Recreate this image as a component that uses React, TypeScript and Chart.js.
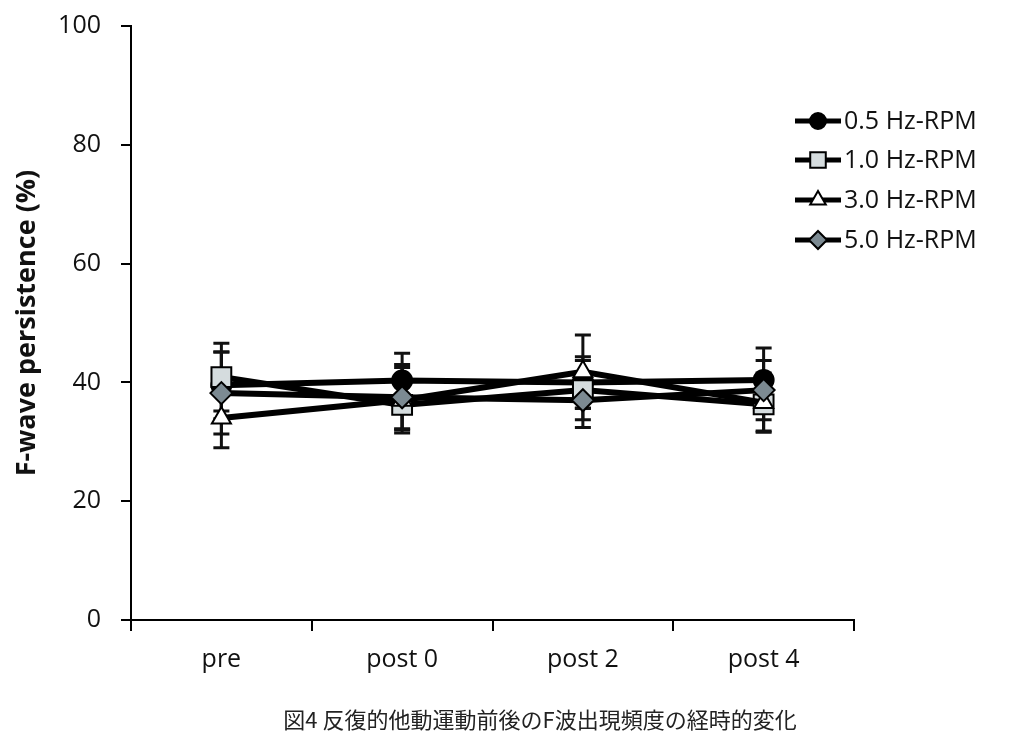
import React, { useEffect, useRef } from "react";
import { Chart, registerables } from "chart.js";

Chart.register(...registerables);

const categories = ["pre", "post 0", "post 2", "post 4"];
const yTicks = [0, 20, 40, 60, 80, 100];

const seriesNames = ["0.5 Hz-RPM", "1.0 Hz-RPM", "3.0 Hz-RPM", "5.0 Hz-RPM"];
const hz05 = [39.5, 40.3, 40.0, 40.4];
const hz10 = [40.9, 36.2, 38.7, 36.3];
const hz30 = [34.0, 37.0, 41.8, 36.6];
const hz50 = [38.2, 37.5, 37.0, 38.7];
const hz05Err = [5.6, 4.6, 4.3, 5.4];
const hz10Err = [5.7, 4.0, 5.0, 4.5];
const hz30Err = [5.0, 5.5, 6.2, 5.0];
const hz50Err = [6.9, 5.5, 4.6, 5.0];

const caption = "図4 反復的他動運動前後のF波出現頻度の経時的変化";
const yTitle = "F-wave persistence (%)";

const styles = [
  { pointStyle: "circle", fill: "#000000", radius: 10, legendR: 8 },
  { pointStyle: "rect", fill: "#d5dcde", radius: 14, legendR: 11 },
  { pointStyle: "triangle", fill: "#ffffff", radius: 11, legendR: 9 },
  { pointStyle: "rectRot", fill: "#7c8a92", radius: 11, legendR: 9 },
];
const values = [hz05, hz10, hz30, hz50];
const errors = [hz05Err, hz10Err, hz30Err, hz50Err];
const orders = [3, 2, 1, 0];

const errorBarPlugin = {
  id: "errorBars",
  beforeDatasetsDraw(chart: any) {
    const ctx = chart.ctx;
    const yScale = chart.scales.y;
    ctx.save();
    ctx.strokeStyle = "#111";
    ctx.lineWidth = 3;
    chart.data.datasets.forEach((ds: any, di: number) => {
      const meta = chart.getDatasetMeta(di);
      const errs = errors[di];
      meta.data.forEach((pt: any, i: number) => {
        const v = ds.data[i];
        const e = errs[i];
        const x = pt.x;
        const yt = yScale.getPixelForValue(v + e);
        const yb = yScale.getPixelForValue(v - e);
        ctx.beginPath();
        ctx.moveTo(x, yt);
        ctx.lineTo(x, yb);
        ctx.moveTo(x - 8, yt);
        ctx.lineTo(x + 8, yt);
        ctx.moveTo(x - 8, yb);
        ctx.lineTo(x + 8, yb);
        ctx.stroke();
      });
    });
    ctx.restore();
  },
};

function drawMarker(ctx: CanvasRenderingContext2D, style: string, x: number, y: number, r: number, fill: string) {
  ctx.beginPath();
  if (style === "circle") {
    ctx.arc(x, y, r, 0, Math.PI * 2);
  } else if (style === "rect") {
    const s = r * Math.SQRT1_2;
    ctx.rect(x - s, y - s, 2 * s, 2 * s);
  } else if (style === "triangle") {
    ctx.moveTo(x, y - r);
    ctx.lineTo(x + r * 0.866, y + r * 0.5);
    ctx.lineTo(x - r * 0.866, y + r * 0.5);
    ctx.closePath();
  } else {
    ctx.moveTo(x, y - r);
    ctx.lineTo(x + r, y);
    ctx.lineTo(x, y + r);
    ctx.lineTo(x - r, y);
    ctx.closePath();
  }
  ctx.fillStyle = fill;
  ctx.fill();
  ctx.lineWidth = 2;
  ctx.strokeStyle = "#000";
  ctx.stroke();
}

const legendPlugin = {
  id: "customLegend",
  afterDraw(chart: any) {
    const ctx = chart.ctx;
    ctx.save();
    const x0 = 795;
    const rows = [121, 160, 200, 240];
    seriesNames.forEach((name, i) => {
      const y = rows[i];
      ctx.beginPath();
      ctx.moveTo(x0, y);
      ctx.lineTo(x0 + 46, y);
      ctx.lineWidth = 5;
      ctx.strokeStyle = "#000";
      ctx.stroke();
      drawMarker(ctx, styles[i].pointStyle, x0 + 23, y, styles[i].legendR, styles[i].fill);
      ctx.fillStyle = "#111";
      ctx.font = "25px 'Open Sans'";
      ctx.textBaseline = "middle";
      ctx.textAlign = "left";
      ctx.fillText(name, x0 + 49, y + 1);
    });
    ctx.restore();
  },
};

export default function App() {
  const ref = useRef<HTMLCanvasElement>(null);
  useEffect(() => {
    if (!ref.current) return;
    const chart = new Chart(ref.current, {
      type: "line",
      data: {
        labels: categories,
        datasets: seriesNames.map((name, i) => ({
          label: name,
          data: values[i],
          borderColor: "#000",
          borderWidth: 6,
          pointStyle: styles[i].pointStyle as any,
          pointRadius: styles[i].radius,
          pointBackgroundColor: styles[i].fill,
          pointBorderColor: "#000",
          pointBorderWidth: 2,
          tension: 0,
          order: orders[i],
          clip: false as any,
        })),
      },
      options: {
        animation: false,
        responsive: true,
        maintainAspectRatio: false,
        layout: { padding: { top: 26, right: 170, bottom: 0, left: 0 } },
        plugins: { legend: { display: false }, tooltip: { enabled: false } },
        scales: {
          x: {
            offset: true,
            grid: { drawOnChartArea: false, offset: true, tickLength: 11, color: "#000", lineWidth: 2 },
            border: { color: "#000", width: 2 },
            ticks: { color: "#111", font: { family: "'Open Sans'", size: 25 }, padding: 14 },
            afterFit: (s: any) => { s.height = 127; s.paddingLeft = 0; s.paddingRight = 0; },
          },
          y: {
            min: 0,
            max: 100,
            afterBuildTicks: (s: any) => { s.ticks = yTicks.map((v) => ({ value: v })); },
            grid: { drawOnChartArea: false, tickLength: 10, color: "#000", lineWidth: 2 },
            border: { color: "#000", width: 2 },
            ticks: { color: "#111", font: { family: "'Open Sans'", size: 25 }, padding: 20 },
            title: {
              display: true,
              text: yTitle,
              color: "#111",
              font: { family: "'Open Sans'", size: 27, weight: "bold" },
              padding: { top: 11, bottom: 0 },
            },
            afterFit: (s: any) => { s.width = 131; s.paddingTop = 0; s.paddingBottom = 0; },
          },
        },
      },
      plugins: [errorBarPlugin, legendPlugin],
    });
    return () => chart.destroy();
  }, []);
  return (
    <div style={{ position: "absolute", left: 0, top: 0, width: 1024, height: 747, background: "#fff" }}>
      <canvas ref={ref} />
      <div
        style={{
          position: "absolute",
          left: 0,
          width: 1080,
          top: 702,
          textAlign: "center",
          fontFamily: "'Noto Sans CJK JP'",
          fontSize: 22,
          color: "#222",
          whiteSpace: "nowrap",
        }}
      >
        {caption}
      </div>
    </div>
  );
}
